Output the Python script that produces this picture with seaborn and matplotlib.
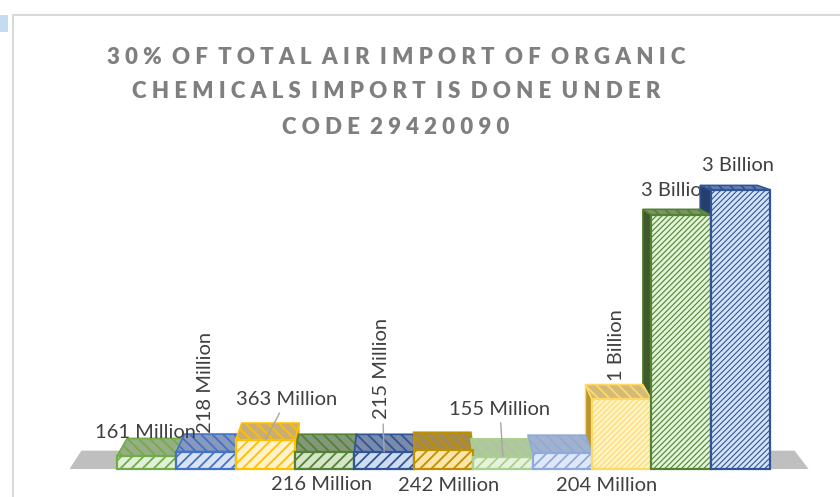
import numpy as np
import pandas as pd
import matplotlib
matplotlib.use("Agg")
import matplotlib.pyplot as plt
from matplotlib.patches import Polygon, Rectangle
import seaborn as sns

# values (millions)
codes = ["c1", "c2", "c3", "c4", "c5", "c6", "c7", "c8", "c9", "c10", "c11"]
import_value = [161, 218, 363, 216, 215, 242, 155, 204, 870, 3175, 3490]
value_labels = ["161 Million", "218 Million", "363 Million", "216 Million", "215 Million",
                "242 Million", "155 Million", "204 Million", "1 Billion", "3 Billion", "3 Billion"]
title_lines = ["30% OF TOTAL AIR IMPORT OF ORGANIC",
               "CHEMICALS IMPORT IS DONE UNDER",
               "CODE 29420090"]

# styling (face, edge, top face, side face)
face_cols = ["#e2efd9", "#dae3f3", "#fff2cc", "#d5e6c8", "#cfdcf0", "#fbe5a8",
             "#e6f2dc", "#dfe8f7", "#fff4c8", "#e2f5d6", "#d6e3f7"]
edge_cols = ["#70ad47", "#4472c4", "#ffc000", "#548235", "#2f5597", "#bf9000",
             "#a9d18e", "#8faadc", "#ffd966", "#548235", "#2f5597"]
top_cols = ["#98ad86", "#8799bd", "#c9ad72", "#83977a", "#7a8aab", "#a38a4e",
            "#b0c4a0", "#a2b1cc", "#d2ba78", "#7a9568", "#6a7fae"]
side_cols = ["#4e6b3a", "#33517f", "#9c7a1e", "#3f5a2d", "#263f6e", "#7f6000",
             "#6d8a5a", "#5a73a0", "#b8962e", "#3f5a2d", "#263f6e"]
label_off = [(-1, 24), (-1, 69), (21, 40), (-3, -33), (-3, 83), (5, -36),
             (-3, 47), (44, -33), (-5, 54), (-4, 25), (-2, 24)]
label_rot = [0, 90, 0, 0, 90, 0, 0, 0, 90, 0, 0]
leader = [False, False, True, False, True, False, True, False, False, False, False]

df = pd.DataFrame({"code": codes, "value": import_value})

sns.set_theme(style="white")
plt.rcParams["font.family"] = ["Lato", "DejaVu Sans"]
plt.rcParams["hatch.linewidth"] = 1.3

W, H = 840, 497
fig = plt.figure(figsize=(W / 100, H / 100), dpi=100)
px_per_m = 0.08
ymax = 3600
ax = fig.add_axes([117 / W, 28 / H, 653 / W, ymax * px_per_m / H])

sns.barplot(data=df, x="code", y="value", hue="code", palette=face_cols,
            width=1.0, saturation=1, legend=False, ax=ax)
ax.set_xlim(-0.5, 10.5)
ax.set_ylim(0, ymax)
ax.axis("off")

# perspective for the fake 3d look
vp = np.array([408.0, H - 102.0])
kxy = np.array([0.035, 0.05])
to_px = ax.transData.transform
to_dt = ax.transData.inverted().transform


def back(pts):
    p = to_px(pts)
    return to_dt(p + (vp - p) * kxy)


# floor
floor_front = np.array([[-1.3, 0], [11.15, 0]])
fb = back(floor_front)
ax.add_patch(Polygon([floor_front[0], floor_front[1], fb[1], fb[0]], closed=True,
                     facecolor="#bfbfbf", edgecolor="none", zorder=0.5, clip_on=False))

for i, bar in enumerate(ax.patches[:len(codes)]):
    x0 = bar.get_x()
    x1 = x0 + bar.get_width()
    h = bar.get_height()
    tall = h > 500
    bar.set_edgecolor(edge_cols[i])
    bar.set_linewidth(1.6)
    bar.set_hatch("//////" if tall else "///")
    if tall and hasattr(bar, "set_hatch_linewidth"):
        bar.set_hatch_linewidth(0.8)
    bar.set_zorder(4)
    bar.set_clip_on(False)

    front_top = np.array([[x0, h], [x1, h]])
    bt = back(front_top)
    ax.add_patch(Polygon([front_top[0], front_top[1], bt[1], bt[0]], closed=True,
                         facecolor=top_cols[i], edgecolor=edge_cols[i], linewidth=1.2,
                         hatch="\\\\\\", zorder=3, clip_on=False))
    # side faces that can be seen from the view point
    left_px = to_px((x0, h))[0]
    right_px = to_px((x1, h))[0]
    for xe, px_e in ((x0, left_px), (x1, right_px)):
        if (xe == x0 and px_e > vp[0]) or (xe == x1 and px_e < vp[0]):
            fr = np.array([[xe, 0], [xe, h]])
            bk = back(fr)
            ax.add_patch(Polygon([fr[0], fr[1], bk[1], bk[0]], closed=True,
                                 facecolor=side_cols[i], edgecolor=edge_cols[i],
                                 linewidth=1.0, zorder=2, clip_on=False))

    arrow = dict(arrowstyle="-", color="#a6a6a6", lw=1.0, shrinkA=1, shrinkB=0) if leader[i] else None
    ax.annotate(value_labels[i], xy=(i, h), xytext=label_off[i], textcoords="offset pixels",
                ha="center", va="center", rotation=label_rot[i], fontsize=14.5,
                color="#404040", arrowprops=arrow, annotation_clip=False,
                zorder=1.9 if i == 9 else 6)

# title, letter spaced
for line, ty in zip(title_lines, [57, 92, 127]):
    spaced = "  ".join(" ".join(w) for w in line.split())
    fig.text(396 / W, 1 - ty / H, spaced, ha="center", va="center", fontsize=16,
             fontweight="heavy", color="#7f7f7f")

# chart frame
fig.patches.append(Rectangle((13 / W, -0.02), 1.0, 1 - 15 / H + 0.02, transform=fig.transFigure,
                             fill=False, edgecolor="#d9d9d9", linewidth=1.5))
fig.patches.append(Rectangle((0, 1 - 32 / H), 8 / W, 17 / H, transform=fig.transFigure,
                             facecolor="#c5dcf0", edgecolor="none"))

fig.savefig("out.png", dpi=100)
